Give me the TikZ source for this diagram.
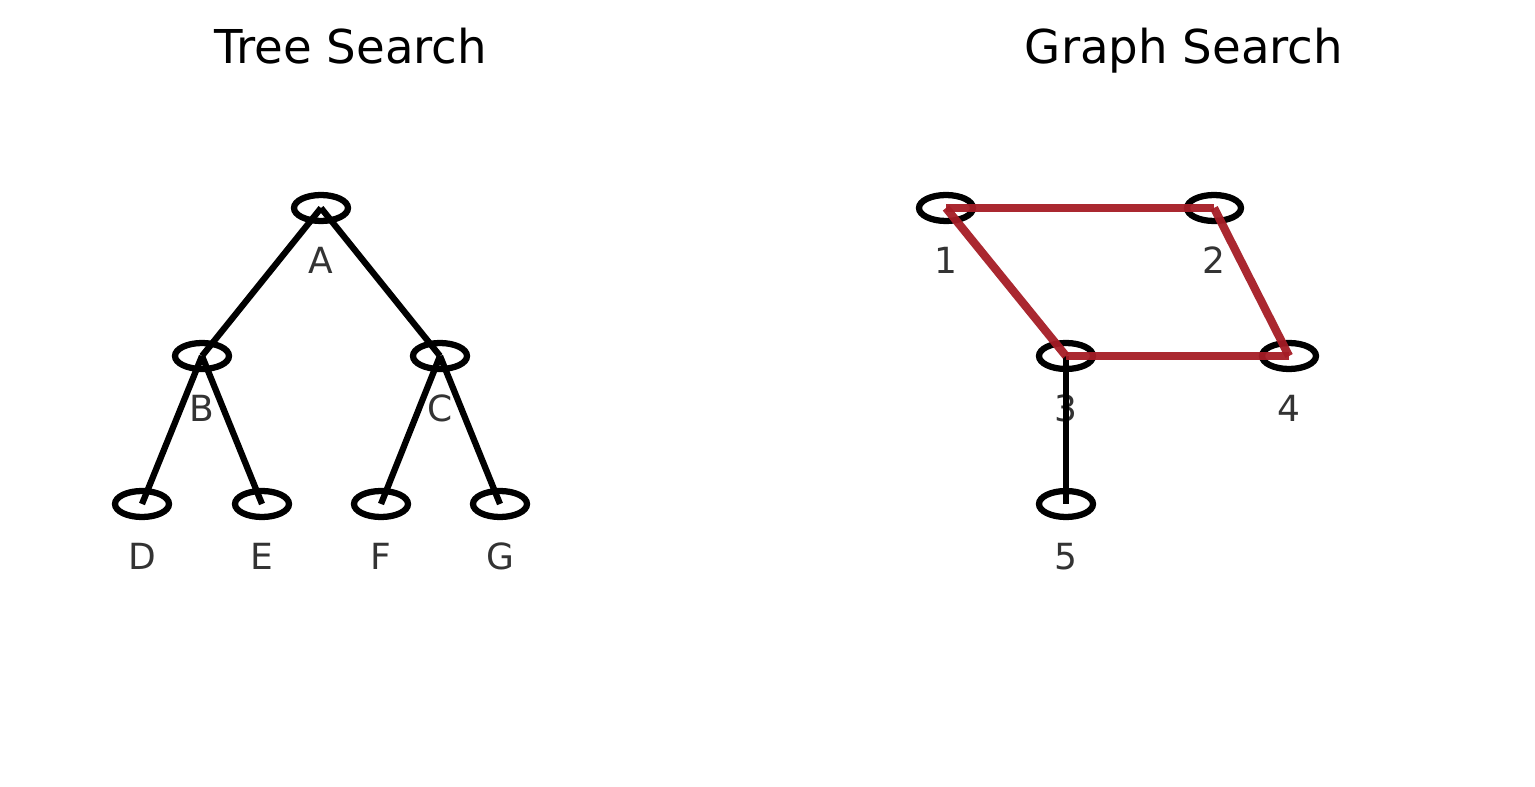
\documentclass[tikz,border=0pt]{standalone}
\usepackage{fontspec}
\setmainfont{DejaVu Sans}
\usetikzlibrary{shapes.geometric}
\definecolor{visited}{HTML}{A51C25}
\definecolor{lblgray}{HTML}{333333}
\begin{document}
\begin{tikzpicture}[x=0.75pt,y=-0.75pt,
  main node/.style={ellipse,draw,line width=4.7pt,inner sep=0pt,minimum width=54*0.75pt,minimum height=26*0.75pt},
  lbl/.style={text=lblgray,anchor=base,font=\fontsize{27}{30}\selectfont},
  ttl/.style={anchor=base,font=\fontsize{35}{40}\selectfont},
  tedge/.style={line width=4.7pt},
  redge/.style={line width=6.2pt,draw=visited,opacity=0.95}]
  \useasboundingbox (0,0) rectangle (1535,787);

  % titles
  \node[ttl] (t1) at (351,64) {Tree Search};
  \node[ttl] (t2) at (1184,64) {Graph Search};

  % tree
  \node[main node] (A) at (321,208) {};
  \node[main node] (B) at (202,356) {};
  \node[main node] (C) at (440,356) {};
  \node[main node] (D) at (142,504) {};
  \node[main node] (E) at (262,504) {};
  \node[main node] (F) at (381,504) {};
  \node[main node] (G) at (500,504) {};
  \node[lbl] (lA) at (321,274) {A};
  \node[lbl] (lB) at (202,422) {B};
  \node[lbl] (lC) at (440,422) {C};
  \node[lbl] (lD) at (142,570) {D};
  \node[lbl] (lE) at (262,570) {E};
  \node[lbl] (lF) at (381,570) {F};
  \node[lbl] (lG) at (500,570) {G};

  \path[tedge]
    (A.center) edge (B.center)
    (A.center) edge (C.center)
    (B.center) edge (D.center)
    (B.center) edge (E.center)
    (C.center) edge (F.center)
    (C.center) edge (G.center);

  % graph
  \node[main node] (1) at (946,208) {};
  \node[main node] (2) at (1214,208) {};
  \node[main node] (3) at (1066,356) {};
  \node[main node] (4) at (1289,356) {};
  \node[main node] (5) at (1066,504) {};
  \node[lbl] (l1) at (946,274) {1};
  \node[lbl] (l2) at (1214,274) {2};
  \node[lbl] (l3) at (1066,422) {3};
  \node[lbl] (l4) at (1289,422) {4};
  \node[lbl] (l5) at (1066,570) {5};

  \draw[tedge] (3.center) -- (5.center);
  \path[redge]
    (1.center) edge (2.center)
    (2.center) edge (4.center)
    (4.center) edge (3.center)
    (3.center) edge (1.center);
\end{tikzpicture}
\end{document}
